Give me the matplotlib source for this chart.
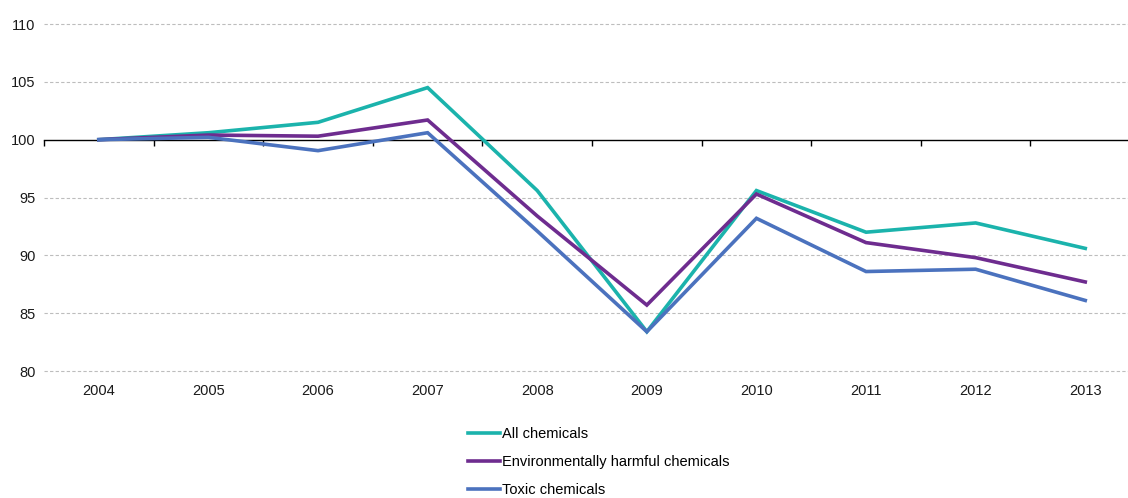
import matplotlib
matplotlib.use("Agg")
import matplotlib.pyplot as plt
import numpy as np

plt.rcParams['font.family'] = ['Liberation Sans', 'DejaVu Sans']

years = [2004, 2005, 2006, 2007, 2008, 2009, 2010, 2011, 2012, 2013]
all_chem = [100.0, 100.6, 101.5, 104.5, 95.6, 83.4, 95.6, 92.0, 92.8, 90.6]
env_harmful = [100.0, 100.4, 100.3, 101.7, 93.4, 85.7, 95.3, 91.1, 89.8, 87.7]
toxic = [100.0, 100.2, 99.05, 100.6, 92.1, 83.4, 93.2, 88.6, 88.8, 86.1]
series_names = ["All chemicals", "Environmentally harmful chemicals", "Toxic chemicals"]
colors = ["#1BB3AC", "#6E2C8F", "#4B72BE"]
yticks = [80, 85, 90, 95, 100, 105, 110]

fig = plt.figure(figsize=(11.28, 4.98), dpi=100)
ax = fig.add_axes([44/1128, 1-371/498, 1-44/1128, (371-24)/498])

for vals, name, c in zip([all_chem, env_harmful, toxic], series_names, colors):
    ax.plot(years, vals, color=c, lw=2.6, label=name, solid_joinstyle='miter', zorder=3)

ax.set_ylim(80, 110)
ax.set_xlim(2003.5, 2013.39)
ax.set_yticks(yticks)
ax.set_xticks(years)
ax.set_xticklabels([str(y) for y in years])
for s in ax.spines.values():
    s.set_visible(False)
ax.tick_params(axis='both', length=0, labelsize=10.5, colors='#1a1a1a')
ax.tick_params(axis='y', pad=6)
ax.tick_params(axis='x', pad=9)
for t in yticks:
    if t != 100:
        ax.axhline(t, color='#BDBDBD', lw=0.8, ls=(0, (3, 2)), zorder=1, clip_on=False)

# baseline axis at 100 with boundary ticks
sec = ax.secondary_xaxis((100 - 80) / 30)
sec.set_alignment('bottom')
sec.spines['bottom'].set_color('black')
sec.spines['bottom'].set_linewidth(1.0)
sec.set_xticks(list(np.array(years) - 0.5))
sec.tick_params(axis='x', direction='out', length=4.5, width=1.0, labelbottom=False, labeltop=False, color='black')

fig.legend(loc='upper left', bbox_to_anchor=(468/1128, 1-427/498), frameon=False,
           fontsize=10.5, handlelength=2.2, handletextpad=0.15, labelspacing=0.95,
           borderaxespad=0, borderpad=0)

fig.savefig("out.png", dpi=100)
